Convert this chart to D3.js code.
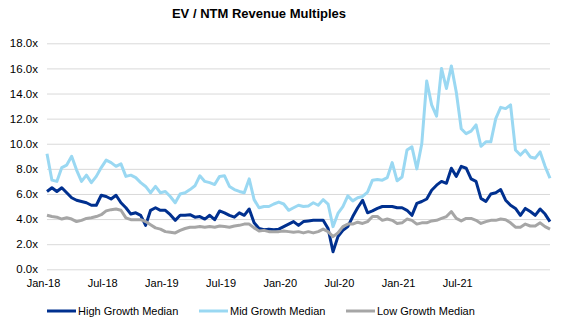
<!DOCTYPE html>
<html>
<head>
<meta charset="utf-8">
<script src="https://cdn.jsdelivr.net/npm/d3@7"></script>
<style>
  body { margin: 0; background: #fff; }
  svg { font-family: "Liberation Sans", Arial, sans-serif; }
</style>
</head>
<body>
<svg width="574" height="330"></svg>
<script>
let width = 574, height = 330;

// half-monthly readings, Jan-18 .. Nov-21
var highGrowth = [
  6.2, 6.5, 6.2, 6.5, 6.1, 5.7, 5.5, 5.4, 5.3, 5.1, 5.1, 5.9, 5.8, 5.6, 5.9, 5.3, 4.9, 4.4, 4.5, 4.3,
  3.5, 4.7, 4.9, 4.7, 4.7, 4.35, 3.9, 4.3, 4.3, 4.35, 4.15, 4.2, 4.0, 4.3, 3.95, 4.65, 4.5, 4.3, 4.15, 4.5,
  4.3, 4.8, 3.7, 3.25, 3.15, 3.2, 3.15, 3.2, 3.4, 3.6, 3.8, 3.5, 3.8, 3.85, 3.9, 3.9, 3.9, 3.25, 1.4, 2.6,
  3.1, 3.4, 4.2, 4.9, 5.5, 4.5, 4.65, 4.85, 5.0, 5.0, 5.0, 4.9, 4.9, 4.7, 4.3, 5.25, 5.4, 5.6, 6.3, 6.7,
  7.0, 6.85, 8.05, 7.4, 8.2, 8.05, 7.2, 7.0, 5.65, 5.4, 6.0, 6.1, 6.35, 5.5, 5.1, 4.85, 4.3, 4.85, 4.6, 4.3,
  4.8, 4.4, 3.8
]
var midGrowth = [
  9.2, 7.1, 7.0, 8.1, 8.3, 9.0, 7.9, 7.0, 7.5, 6.9, 7.4, 8.1, 8.7, 8.5, 8.2, 8.4, 7.4, 7.5, 7.3, 6.9,
  6.6, 6.1, 6.6, 6.1, 6.2, 5.8, 5.3, 6.0, 6.1, 6.35, 6.65, 7.45, 7.0, 6.9, 6.75, 7.4, 7.45, 6.6, 6.35, 6.2,
  6.1, 7.2, 5.55, 4.9, 5.0, 5.0, 5.2, 5.35, 5.2, 4.7, 4.9, 5.1, 5.0, 5.05, 5.3, 5.1, 5.55, 5.2, 3.4, 4.45,
  5.0, 5.85, 5.45, 5.7, 5.8, 6.15, 7.1, 7.15, 7.1, 7.3, 8.5, 7.05, 7.35, 9.5, 9.75, 8.0, 10.0, 15.0, 13.1, 12.2,
  16.0, 14.4, 16.2, 14.1, 11.2, 10.8, 11.0, 11.5, 9.8, 10.15, 10.15, 12.0, 12.9, 12.8, 13.1, 9.5, 9.1, 9.5, 8.95, 8.85,
  9.35, 8.2, 7.25
]
var lowGrowth = [
  4.3, 4.2, 4.15, 4.0, 4.1, 4.0, 3.8, 3.9, 4.05, 4.1, 4.2, 4.35, 4.65, 4.75, 4.8, 4.7, 4.1, 3.95, 3.95, 3.95,
  3.8, 3.55, 3.3, 3.2, 3.0, 2.95, 2.9, 3.1, 3.25, 3.35, 3.35, 3.4, 3.35, 3.4, 3.35, 3.45, 3.4, 3.35, 3.45, 3.5,
  3.6, 3.6, 3.3, 3.05, 3.1, 3.0, 3.0, 3.0, 3.05, 3.0, 2.95, 3.0, 2.9, 3.0, 2.9, 3.0, 3.2, 3.0, 2.6, 2.9,
  3.4, 3.6, 3.6, 3.75, 3.65, 3.8, 4.2, 4.2, 3.9, 4.0, 3.9, 3.65, 3.7, 4.0, 3.9, 3.6, 3.7, 3.7, 3.85, 3.9,
  4.05, 4.2, 4.6, 4.05, 3.85, 4.05, 4.05, 3.9, 3.65, 3.8, 3.9, 3.9, 4.0, 3.95, 3.7, 3.35, 3.35, 3.6, 3.45, 3.45,
  3.7, 3.4, 3.2
]

var tickLabels = ["Jan-18", "Jul-18", "Jan-19", "Jul-19", "Jan-20", "Jul-20", "Jan-21", "Jul-21"]
var labelEvery = 12
var yTicks = [0, 2, 4, 6, 8, 10, 12, 14, 16, 18]

var seriesNames = ["High Growth Median", "Mid Growth Median", "Low Growth Median"]
var seriesColors = ["#00308f", "#9ad8f2", "#a6a6a6"]

let series = [highGrowth, midGrowth, lowGrowth].map((vals, k) => ({
    name: seriesNames[k], color: seriesColors[k], values: vals
}))

let svg = d3.select("svg")
    .attr("viewBox", "0 0 " + width + " " + height)

let plotLeft = 47, plotRight = 550, plotTop = 43.3, plotBottom = 269.3

let x = d3.scaleLinear()
    .domain([0, highGrowth.length - 1])
    .range([plotLeft, plotRight])

let y = d3.scaleLinear()
    .domain([0, 18])
    .range([plotBottom, plotTop])

// title
svg.append("text")
    .attr("x", 259)
    .attr("y", 18)
    .attr("text-anchor", "middle")
    .attr("font-size", "13px")
    .attr("font-weight", "bold")
    .attr("fill", "#000")
    .text("EV / NTM Revenue Multiples")

// gridlines + y labels
let yAxis = d3.axisLeft(y)
    .tickValues(yTicks)
    .tickSize(-(plotRight - plotLeft))
    .tickPadding(9)
    .tickFormat(d => d3.format(".1f")(d) + "x")

svg.append("g")
    .attr("transform", "translate(" + plotLeft + ",0)")
    .call(yAxis)
    .call(g => g.select(".domain").remove())
    .call(g => g.selectAll("line").attr("stroke", "#d9d9d9").attr("stroke-width", 1))
    .call(g => g.selectAll("text").attr("font-size", "11.5px").attr("fill", "#000")
        .attr("font-family", "Liberation Sans, Arial, sans-serif"))

// category labels every N points
let xAxis = d3.axisBottom(x)
    .tickValues(tickLabels.map((t, i) => i * labelEvery))
    .tickSize(0)
    .tickPadding(10)
    .tickFormat((d, i) => tickLabels[i])

svg.append("g")
    .attr("transform", "translate(0," + plotBottom + ")")
    .call(xAxis)
    .call(g => g.select(".domain").remove())
    .call(g => g.selectAll("text").attr("font-size", "11px").attr("fill", "#000")
        .attr("dx", "-4px")
        .attr("font-family", "Liberation Sans, Arial, sans-serif"))

let line = d3.line()
    .x((d, i) => x(i))
    .y(d => y(d))

svg.append("g")
    .selectAll("path")
    .data(series)
    .enter()
    .append("path")
    .attr("d", d => line(d.values))
    .attr("fill", "none")
    .attr("stroke", d => d.color)
    .attr("stroke-width", 3)
    .attr("stroke-linejoin", "round")

// legend
let legendX = [47, 199, 346]
let legend = svg.append("g")
    .selectAll("g")
    .data(series)
    .enter()
    .append("g")
    .attr("transform", (d, i) => "translate(" + legendX[i] + ",311)")

legend.append("line")
    .attr("x1", 0).attr("x2", 29)
    .attr("stroke", d => d.color)
    .attr("stroke-width", 3)

legend.append("text")
    .attr("x", 31)
    .attr("y", 4)
    .attr("font-size", "11px")
    .attr("fill", "#000")
    .text(d => d.name)
</script>
</body>
</html>
